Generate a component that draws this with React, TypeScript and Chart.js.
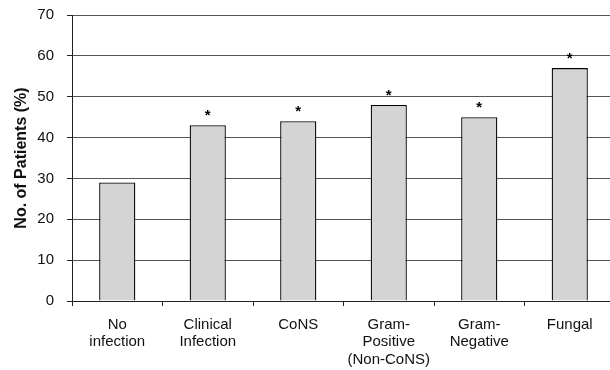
import React, { useEffect, useRef } from "react";
import { Chart, registerables } from "chart.js";

Chart.register(...registerables);

const categories: (string | string[])[] = [
  ["No", "infection"],
  ["Clinical", "Infection"],
  "CoNS",
  ["Gram-", "Positive", "(Non-CoNS)"],
  ["Gram-", "Negative"],
  "Fungal",
];
const values = [29, 43, 44, 48, 45, 57];
const significance = ["", "*", "*", "*", "*", "*"];
const yTitle = "No. of Patients (%)";
const yMin = 0;
const yMax = 70;
const yStep = 10;

const FONT = "'Liberation Sans', Arial, Helvetica, sans-serif";

const starPlugin = {
  id: "stars",
  afterDatasetsDraw(chart: any) {
    const meta = chart.getDatasetMeta(0);
    const ctx = chart.ctx;
    ctx.save();
    ctx.fillStyle = "#000";
    ctx.font = `bold 15px ${FONT}`;
    ctx.textAlign = "center";
    ctx.textBaseline = "alphabetic";
    meta.data.forEach((bar: any, i: number) => {
      const s = significance[i];
      if (s) ctx.fillText(s, bar.x, bar.y - 5);
    });
    ctx.restore();
  },
};

export default function App() {
  const ref = useRef<HTMLCanvasElement | null>(null);

  useEffect(() => {
    if (!ref.current) return;
    const chart = new Chart(ref.current, {
      type: "bar",
      data: {
        labels: categories,
        datasets: [
          {
            data: values,
            backgroundColor: "#d4d4d4",
            borderColor: "#000",
            borderWidth: 1.3,
            barPercentage: 0.4,
            categoryPercentage: 1,
          },
        ],
      },
      options: {
        animation: false,
        responsive: false,
        devicePixelRatio: 1,
        layout: { padding: { top: 15, right: 5, left: 0, bottom: 0 } },
        plugins: {
          legend: { display: false },
          tooltip: { enabled: false },
        },
        scales: {
          x: {
            grid: {
              display: true,
              drawOnChartArea: false,
              drawTicks: true,
              tickLength: 5,
              color: "#222",
              offset: true,
            },
            border: { display: true, color: "#222", width: 1 },
            ticks: {
              color: "#111",
              font: { family: FONT, size: 15, lineHeight: 1.17 },
              padding: 10,
              maxRotation: 0,
              autoSkip: false,
            },
            afterFit: (scale: any) => {
              scale.height = 69;
              scale.paddingLeft = 0;
              scale.paddingRight = 0;
            },
          },
          y: {
            min: yMin,
            max: yMax,
            grid: {
              color: "#555",
              lineWidth: 1,
              drawTicks: true,
              tickLength: 5,
              tickColor: "#222",
            },
            border: { display: true, color: "#222", width: 1 },
            ticks: {
              stepSize: yStep,
              color: "#111",
              font: { family: FONT, size: 15 },
              padding: 13,
            },
            title: {
              display: true,
              text: yTitle,
              color: "#111",
              font: { family: FONT, size: 16, weight: "bold" },
              padding: { top: 12, bottom: 0 },
            },
            afterFit: (scale: any) => {
              scale.width = 72;
              scale.paddingTop = 0;
              scale.paddingBottom = 0;
            },
          },
        },
      },
      plugins: [starPlugin],
    });
    return () => chart.destroy();
  }, []);

  return (
    <div
      style={{
        position: "absolute",
        left: 0,
        top: 0,
        width: 610,
        height: 370,
        overflow: "hidden",
        background: "#fff",
      }}
    >
      <canvas ref={ref} width={620} height={370} style={{ display: "block" }} />
    </div>
  );
}
